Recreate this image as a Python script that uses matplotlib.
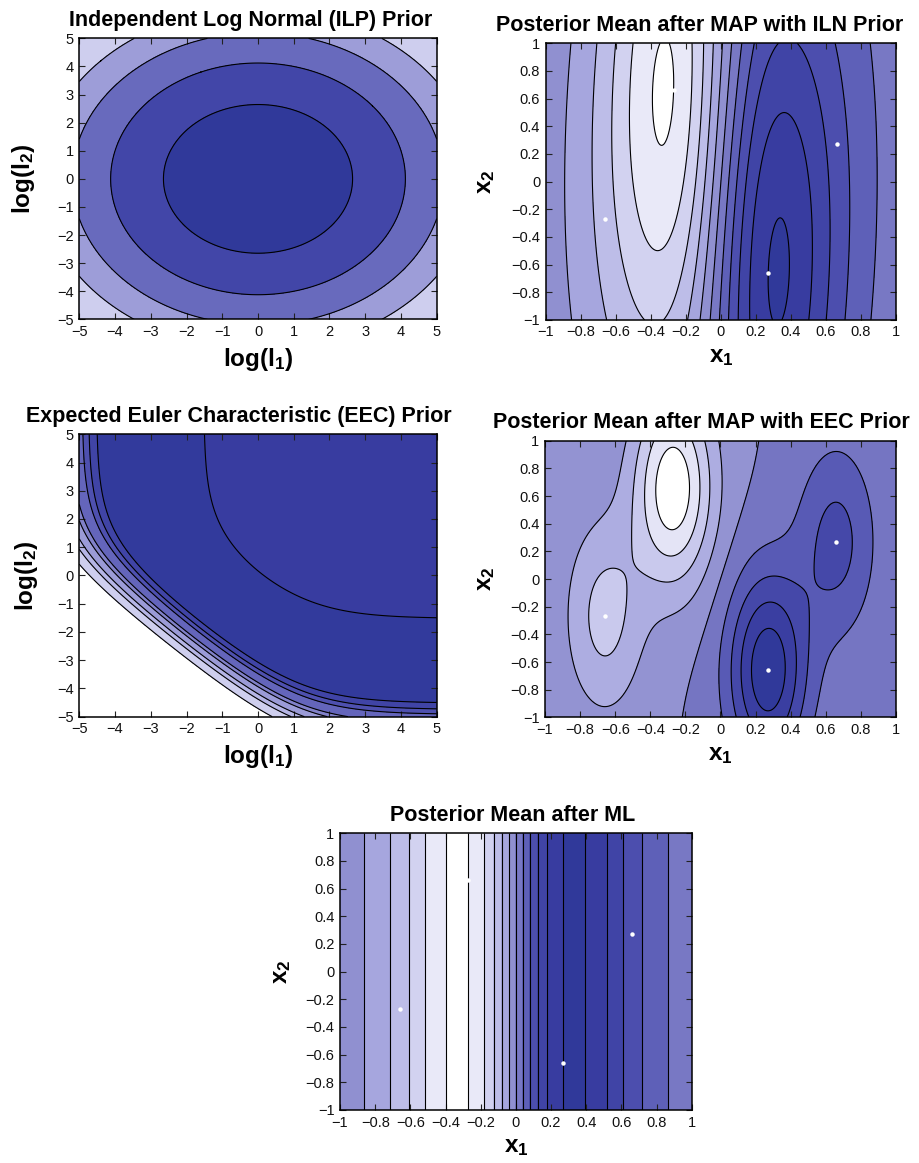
import numpy as np
import matplotlib
matplotlib.use('Agg')
import matplotlib.pyplot as plt
from matplotlib.colors import LinearSegmentedColormap
from matplotlib.ticker import FuncFormatter

plt.rcParams['font.family'] = ['Liberation Sans', 'DejaVu Sans']
plt.rcParams['mathtext.fontset'] = 'custom'
plt.rcParams['mathtext.rm'] = 'Liberation Sans'
plt.rcParams['mathtext.bf'] = 'Liberation Sans:bold'
plt.rcParams['mathtext.it'] = 'Liberation Sans:italic'

# training inputs (white dots) and targets
train_x1 = [-0.66, -0.27, 0.27, 0.66]
train_x2 = [-0.27, 0.66, -0.66, 0.27]
train_y = [-2.5, -5.0, 5.0, 2.5]

# GP hyperparameters: lengthscale x1, lengthscale x2, noise variance
hyp_map_iln = (0.26, 1.6, 1e-4)
hyp_map_eec = (0.16, 0.50, 0.05)
hyp_ml = (0.25, 1000.0, 1e-6)
post_levels = [-5, -4, -3, -2, -1, 0, 1, 2, 3, 4, 5]

# priors over log lengthscales
iln_levels = [-18.5, -13.5, -8.5, -3.5]
eec_c = 3.2   # weight of the area term against the perimeter terms
eec_log_levels = [1.52, 4.52, 4.745, 4.92, 5.23, 5.38, 5.63, 5.82, 6.15]

post_colors = ['#ffffff', '#e9e9f8', '#d2d2f0', '#bcbce8', '#a6a6de', '#9090d0',
               '#7878c4', '#5e60b8', '#4c4eae', '#4044a6', '#383ca0', '#30399a']
cmap = LinearSegmentedColormap.from_list('blues', post_colors)


def gp_mean(hyp, g1, g2):
    l1, l2, noise = hyp
    x1 = np.array(train_x1)
    x2 = np.array(train_x2)
    y = np.array(train_y)
    K = np.exp(-0.5 * ((x1[:, None] - x1[None]) / l1) ** 2
               - 0.5 * ((x2[:, None] - x2[None]) / l2) ** 2)
    alpha = np.linalg.solve(K + noise * np.eye(len(y)), y)
    Ks = np.exp(-0.5 * ((g1[..., None] - x1) / l1) ** 2
                - 0.5 * ((g2[..., None] - x2) / l2) ** 2)
    return Ks @ alpha


def fmt(v, pos):
    if abs(v) < 1e-9:
        return '0'
    return '{:g}'.format(round(v, 6)).replace('-', '\u2212')


def filled(ax, X, Y, Z, levels, tvals):
    full = [Z.min() - 1] + list(levels) + [Z.max() + 1]
    ax.contourf(X, Y, Z, levels=full, colors=cmap(np.asarray(tvals)))
    ax.contour(X, Y, Z, levels=levels, colors='k', linewidths=0.8,
               linestyles='solid')


def style(ax, ticks, title, tx, xl, yl, ylx):
    ax.set_xticks(ticks)
    ax.set_yticks(ticks)
    ax.xaxis.set_major_formatter(FuncFormatter(fmt))
    ax.yaxis.set_major_formatter(FuncFormatter(fmt))
    ax.tick_params(direction='in', top=True, right=True, length=4, width=0.8,
                   labelsize=10.5, pad=4, colors='#222222', labelcolor='#111111')
    for s in ax.spines.values():
        s.set_linewidth(1.1)
    ax.set_title(title, fontsize=15.5, fontweight='bold', x=tx, pad=9)
    ax.set_xlabel(xl, fontsize=17.5)
    ax.set_ylabel(yl, fontsize=17.5)
    ax.xaxis.set_label_coords(0.5, -0.095)
    ax.yaxis.set_label_coords(ylx, 0.5)


fig = plt.figure(figsize=(9.2, 11.63), dpi=100)

# log lengthscale grid
u = np.linspace(-5, 5, 401)
U, V = np.meshgrid(u, u)
# posterior grid
g = np.linspace(-1, 1, 401)
G1, G2 = np.meshgrid(g, g)

lab_l1 = r'$\mathbf{log(l_1)}$'
lab_l2 = r'$\mathbf{log(l_2)}$'
lab_x1 = r'$\mathbf{x_1}$'
lab_x2 = r'$\mathbf{x_2}$'
ticks_l = np.arange(-5, 6)
ticks_x = np.linspace(-1, 1, 11)

# Independent log normal prior
ax1 = fig.add_axes([0.0862, 0.7254, 0.3885, 0.2416])
Z = -(U ** 2 + V ** 2) / 2
filled(ax1, U, V, Z, iln_levels, np.linspace(0.2, 1, 5))
style(ax1, ticks_l, 'Independent Log Normal (ILP) Prior', 0.479, lab_l1, lab_l2, -0.118)

# EEC prior: perimeter terms 1/l1 + 1/l2 plus area term 1/(l1 l2)
ax3 = fig.add_axes([0.0862, 0.3838, 0.3885, 0.2428])
F = np.exp(-U) + np.exp(-V) + eec_c * np.exp(-(U + V))
Z = -np.log(F)
lv = sorted(-np.array(eec_log_levels))
tv = np.concatenate([[0], np.linspace(0.2, 0.82, len(lv) - 2), [0.97, 0.91]])
filled(ax3, U, V, Z, lv, tv)
style(ax3, ticks_l, 'Expected Euler Characteristic (EEC) Prior', 0.447, lab_l1, lab_l2, -0.11)

# posterior means
panels = [
    ([0.5932, 0.7249, 0.3808, 0.2379], hyp_map_iln, 'Posterior Mean after MAP with ILN Prior', 0.44, -0.139),
    ([0.5924, 0.3832, 0.3815, 0.2378], hyp_map_eec, 'Posterior Mean after MAP with EEC Prior', 0.446, -0.137),
    ([0.3696, 0.0456, 0.3823, 0.2379], hyp_ml, 'Posterior Mean after ML', 0.49, -0.134),
]
for rect, hyp, title, tx, ylx in panels:
    ax = fig.add_axes(rect)
    Z = gp_mean(hyp, G1, G2)
    lv = [l for l in post_levels if Z.min() < l < Z.max()]
    filled(ax, G1, G2, Z, lv, np.linspace(0, 1, len(lv) + 1))
    ax.plot(train_x1, train_x2, 'o', color='white', ms=3.2, mew=0)
    ax.set_xlim(-1, 1)
    ax.set_ylim(-1, 1)
    style(ax, ticks_x, title, tx, lab_x1, lab_x2, ylx)

fig.savefig('out.png', dpi=100)
